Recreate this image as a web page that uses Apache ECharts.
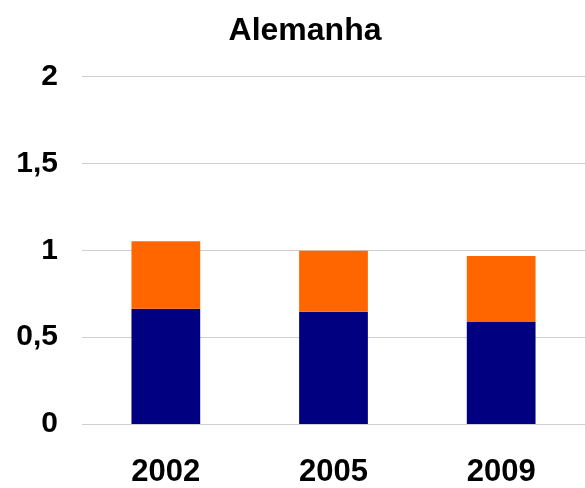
<!DOCTYPE html>
<html>
<head>
<meta charset="utf-8">
<script src="https://cdn.jsdelivr.net/npm/echarts@6/dist/echarts.min.js"></script>
<style>
  html, body { margin: 0; padding: 0; background: #fff; }
  #main { width: 585px; height: 488px; }
</style>
</head>
<body>
<div id="main"></div>
<script>
  // dados
  var anos = ['2002', '2005', '2009']
  var parteAzul = [0.664, 0.647, 0.59]
  var parteLaranja = [0.389, 0.35, 0.377]

  var myChart = echarts.init(document.getElementById('main'))
  var fonte = '"Liberation Sans", Arial, sans-serif'

  var option = {
    animation: false,
    title: {
      text: 'Alemanha',
      left: 300,
      textAlign: 'center',
      top: 10,
      textStyle: { fontFamily: fonte, fontSize: 32, fontWeight: 'bold', color: '#000' }
    },
    grid: { left: 82, right: 0, top: 76.7, bottom: 62 },
    xAxis: {
      type: 'category',
      data: anos,
      axisLine: { show: false },
      axisTick: { show: false },
      axisLabel: { fontFamily: fonte, fontSize: 31, fontWeight: 'bold', color: '#000', margin: 33 }
    },
    yAxis: {
      type: 'value',
      min: 0,
      max: 2,
      interval: 0.5,
      axisLine: { show: false },
      axisTick: { show: false },
      splitLine: { lineStyle: { color: '#cfcfcf', width: 1 } },
      axisLabel: {
        fontFamily: fonte, fontSize: 30, fontWeight: 'bold', color: '#000', margin: 24,
        formatter: function (v) { return String(v).replace('.', ',') }
      }
    },
    series: [
      {
        type: 'bar',
        stack: 'total',
        data: parteAzul,
        barWidth: '41%',
        itemStyle: { color: '#000080' }
      },
      {
        type: 'bar',
        stack: 'total',
        data: parteLaranja,
        itemStyle: { color: '#ff6600' }
      }
    ]
  }

  myChart.setOption(option)
</script>
</body>
</html>
